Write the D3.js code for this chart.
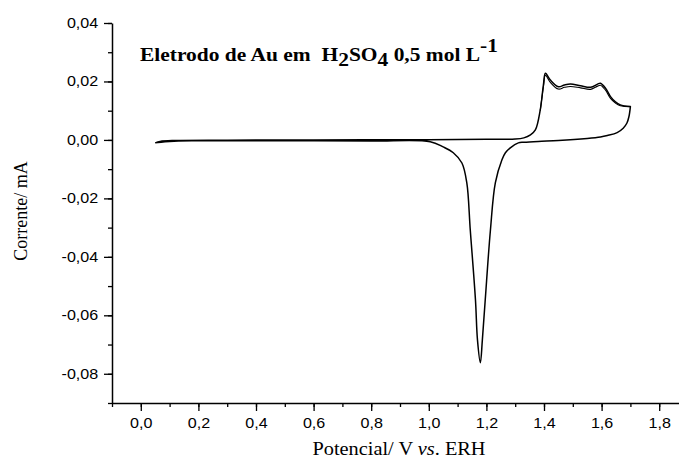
<!DOCTYPE html>
<html>
<head>
<meta charset="utf-8">
<script src="https://cdn.jsdelivr.net/npm/d3@7"></script>
<style>
  body { margin: 0; background: #fff; }
  svg { display: block; }
</style>
</head>
<body>
<svg></svg>
<script>
// Cyclic voltammogram data (E in V vs. ERH, I in mA)
const anodicE = [0.05, 0.067, 0.12, 0.3, 0.6, 1.0, 1.2, 1.3, 1.33, 1.353, 1.37, 1.387, 1.398, 1.405,
                 1.422, 1.45, 1.471, 1.492, 1.527, 1.562, 1.586, 1.596, 1.613, 1.631, 1.648, 1.665, 1.70];
const anodicI = [-0.0010, -0.0005, -0.0002, -0.0001, 0.0, 0.0001, 0.0002, 0.0003, 0.0007, 0.0017, 0.0034, 0.0103, 0.0188, 0.0228,
                 0.0205, 0.0182, 0.0188, 0.0191, 0.0185, 0.0180, 0.0191, 0.0194, 0.0178, 0.0148, 0.0130, 0.0120, 0.0114];

const cathodicE = [1.70, 1.695, 1.688, 1.675, 1.654, 1.62, 1.596, 1.55, 1.45, 1.38, 1.33, 1.311, 1.283, 1.266, 1.254, 1.231,
                   1.214, 1.196, 1.186, 1.179, 1.169, 1.162, 1.144, 1.132, 1.115, 1.085, 1.05, 1.005, 0.8, 0.5, 0.2, 0.1, 0.05];
const cathodicI = [0.0114, 0.0080, 0.0058, 0.0040, 0.0025, 0.0015, 0.0010, 0.0005, -0.0002, -0.0005, -0.0008, -0.0010, -0.0027, -0.0044, -0.0068, -0.0147,
                   -0.0308, -0.0547, -0.0684, -0.0762, -0.0684, -0.0547, -0.0308, -0.0147, -0.0079, -0.0044, -0.0024, -0.0006, -0.0004, -0.0003, -0.0003, -0.0005, -0.0010];

// second cycle, oxide region (slightly lower)
const cycle2E = [1.387, 1.398, 1.405, 1.422, 1.45, 1.471, 1.492, 1.527, 1.562, 1.586, 1.596, 1.613, 1.631, 1.648, 1.665, 1.70];
const cycle2I = [0.0100, 0.0182, 0.0221, 0.0197, 0.0174, 0.0180, 0.0183, 0.0178, 0.0173, 0.0184, 0.0187, 0.0171, 0.0142, 0.0126, 0.0117, 0.0114];

const xTicks = [0.0, 0.2, 0.4, 0.6, 0.8, 1.0, 1.2, 1.4, 1.6, 1.8];
const xTickLabels = ["0,0", "0,2", "0,4", "0,6", "0,8", "1,0", "1,2", "1,4", "1,6", "1,8"];
const yTicks = [-0.08, -0.06, -0.04, -0.02, 0.0, 0.02, 0.04];
const yTickLabels = ["-0,08", "-0,06", "-0,04", "-0,02", "0,00", "0,02", "0,04"];

const W = 679, H = 458;
const svg = d3.select("svg").attr("width", W).attr("height", H);

const x = d3.scaleLinear().domain([-0.1, 1.9]).range([112, 688]);
const y = d3.scaleLinear().domain([-0.09, 0.04]).range([403, 23]);

const xMinor = d3.range(-0.1, 1.95, 0.1).map(v => +v.toFixed(2));
const yMinor = d3.range(-0.09, 0.045, 0.01).map(v => +v.toFixed(3));

// minor ticks
svg.append("g")
  .attr("transform", "translate(0,403)")
  .call(d3.axisBottom(x).tickValues(xMinor).tickSize(4).tickFormat(""))
  .call(g => g.select(".domain").remove());
svg.append("g")
  .attr("transform", "translate(112,0)")
  .call(d3.axisLeft(y).tickValues(yMinor).tickSize(4).tickFormat(""))
  .call(g => g.select(".domain").remove());

// major ticks + labels
svg.append("g")
  .attr("transform", "translate(0,403)")
  .call(d3.axisBottom(x).tickValues(xTicks).tickSize(8).tickSizeOuter(0)
        .tickPadding(7).tickFormat((d, i) => xTickLabels[i]))
  .call(g => g.selectAll(".tick text").attr("transform", "scale(1.15,1)"));
svg.append("g")
  .attr("transform", "translate(112,0)")
  .call(d3.axisLeft(y).tickValues(yTicks).tickSize(8).tickSizeOuter(0)
        .tickPadding(4).tickFormat((d, i) => yTickLabels[i]))
  .call(g => g.selectAll(".tick text").attr("transform", "scale(1.15,1)"));

svg.selectAll(".tick line").attr("stroke", "#000").attr("stroke-width", 1.3);
svg.selectAll(".domain").attr("stroke", "#000").attr("stroke-width", 1.5);
svg.selectAll(".tick text")
  .attr("font-family", "'Liberation Sans', Arial, sans-serif")
  .attr("font-size", 14).attr("fill", "#000");

// curves
const lineAny = d3.line().x(d => x(d[0])).y(d => y(d[1])).curve(d3.curveCatmullRom.alpha(0.5));

const cyc1 = anodicE.map((e, i) => [e, anodicI[i]]).concat(cathodicE.map((e, i) => [e, cathodicI[i]]));
const cyc2 = cycle2E.map((e, i) => [e, cycle2I[i]]);

svg.append("path").datum(cyc2)
  .attr("fill", "none").attr("stroke", "#000").attr("stroke-width", 1.1)
  .attr("d", lineAny);
svg.append("path").datum(cyc1)
  .attr("fill", "none").attr("stroke", "#000").attr("stroke-width", 1.5)
  .attr("stroke-linejoin", "round")
  .attr("d", lineAny);

// axis titles
const serif = "'Liberation Serif', 'Times New Roman', serif";
const xt = svg.append("text")
  .attr("transform", "translate(399,455) scale(1.13,1)")
  .attr("text-anchor", "middle")
  .attr("font-family", serif).attr("font-size", 18);
xt.append("tspan").text("Potencial/ V ");
xt.append("tspan").attr("font-style", "italic").text("vs");
xt.append("tspan").text(". ERH");

svg.append("text")
  .attr("transform", "translate(27,211) rotate(-90)")
  .attr("text-anchor", "middle")
  .attr("font-family", serif).attr("font-size", 18)
  .text("Corrente/ mA");

// chart title
const tt = svg.append("text")
  .attr("transform", "translate(140,61) scale(1.13,1)")
  .attr("font-family", serif).attr("font-size", 19).attr("font-weight", "bold");
tt.append("tspan").text("Eletrodo de Au em\u00a0 H");
tt.append("tspan").attr("dy", 5).text("2");
tt.append("tspan").attr("dy", -5).text("SO");
tt.append("tspan").attr("dy", 5).text("4");
tt.append("tspan").attr("dy", -5).text(" 0,5 mol L");
tt.append("tspan").attr("dy", -9).text("-1");
</script>
</body>
</html>
